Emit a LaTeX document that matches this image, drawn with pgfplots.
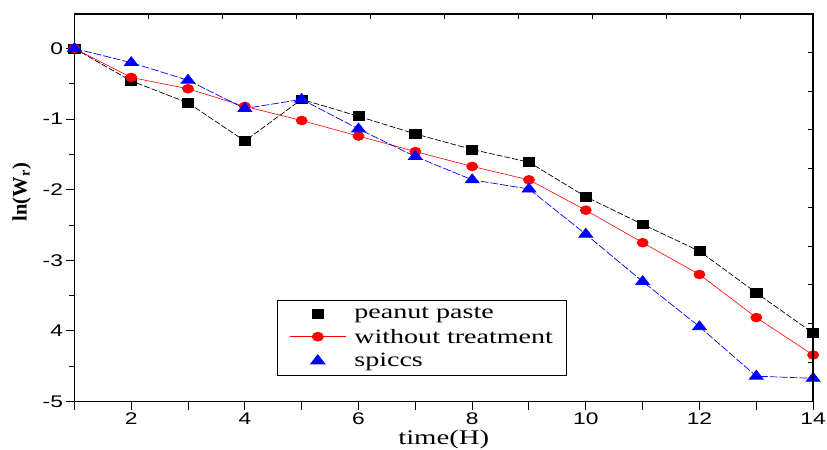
\documentclass[border=0pt]{standalone}
\usepackage{fontspec}
\setmainfont{Liberation Serif}[FakeStretch=1.38]
\newfontfamily\ticksf{Liberation Sans}[FakeStretch=1.35]
\usepackage{pgfplots}
\usepackage{pgfplotstable}
\pgfplotsset{compat=1.18}

\pgfplotstableread{
x black red blue
1 0 0 0
2 -0.46 -0.41 -0.20
3 -0.77 -0.57 -0.45
4 -1.31 -0.82 -0.85
5 -0.72 -1.02 -0.72
6 -0.96 -1.24 -1.14
7 -1.21 -1.46 -1.53
8 -1.43 -1.67 -1.86
9 -1.61 -1.86 -1.99
10 -2.10 -2.29 -2.63
11 -2.49 -2.75 -3.30
12 -2.87 -3.20 -3.94
13 -3.46 -3.81 -4.64
14 -4.03 -4.34 -4.67
}\datatable

\begin{document}
\begin{tikzpicture}
\begin{axis}[
  name=main,
  scale only axis, width=745pt, height=391pt,
  xmin=1, xmax=14, ymin=-5, ymax=0.49,
  axis line style={line width=1.3pt},
  xtick={1,...,14}, xticklabels={,2,,4,,6,,8,,10,,12,,14},
  ytick={-5,-4,-3,-2,-1,0}, yticklabels={-5,4,-3,-2,-1,0},
  minor ytick={-4.5,-3.5,-2.5,-1.5,-0.5},
  tick pos=left, tick align=outside,
  major tick length=8pt, minor tick length=5pt,
  tick style={line width=1pt, black},
  ticklabel style={font=\ticksf\fontsize{17}{20}\selectfont},
  xlabel={time(H)},
  xlabel style={font=\fontsize{21}{24}\selectfont, yshift=2pt},
  ylabel={\scalebox{1}[1.38]{\bfseries ln(W\textsubscript{r})}},
  ylabel style={font=\fontsize{15}{18}\selectfont, at={(ticklabel cs:0.54,5pt)}},
  legend cell align=left,
  legend style={at={(0.274,0.263)}, anchor=north west, draw=black, line width=1pt,
    font=\fontsize{20.5}{24}\selectfont, inner xsep=12pt, inner ysep=5pt, row sep=5pt,
    /tikz/every odd column/.append style={column sep=6pt}},
  legend image code/.code={\draw[mark repeat=2,mark phase=2,#1] plot coordinates {(0cm,0cm) (1cm,0cm) (2cm,0cm)};},
]
\addplot[black, line width=0.7pt, dash pattern=on 6pt off 2pt, mark=square*, mark size=4.5pt, mark options={solid, xscale=1.25}, forget plot] table[x=x, y=black] {\datatable};
\addplot[red, line width=0.6pt, mark=*, mark size=4.5pt, mark options={solid, xscale=1.25}, forget plot] table[x=x, y=red] {\datatable};
\addplot[blue, line width=0.7pt, dash pattern=on 8pt off 2pt, mark=triangle*, mark size=6pt, mark options={solid, xscale=1.35}, forget plot] table[x=x, y=blue] {\datatable};
\addlegendimage{only marks, black, mark=square*, mark size=4.5pt, mark options={xscale=1.25}}
\addlegendentry{peanut paste}
\addlegendimage{red, line width=0.8pt, mark=*, mark size=4.5pt, mark options={xscale=1.25}}
\addlegendentry{without treatment}
\addlegendimage{only marks, blue, mark=triangle*, mark size=6pt, mark options={xscale=1.35}}
\addlegendentry{spiccs}
\end{axis}
\begin{axis}[
  scale only axis, width=745pt, height=391pt,
  xmin=1, xmax=14, ymin=-5, ymax=0.49,
  axis line style={line width=1.3pt},
  axis x line*=top, axis y line*=right,
  xtick={2.31,3.61,4.91,6.21,7.52,8.82,10.12,11.42,12.73},
  ytick={-0.06,-0.61,-1.15,-1.70,-2.25,-2.80,-3.34,-3.89,-4.44},
  xticklabels={}, yticklabels={},
  tick align=inside, major tick length=5pt,
  tick style={line width=1pt, black},
]
\end{axis}
\path (main.south west) ++(-75pt,-48pt) coordinate (bbsw);
\path (main.north east) ++(14pt,14pt) coordinate (bbne);
\pgfresetboundingbox
\path[use as bounding box] (bbsw) rectangle (bbne);
\end{tikzpicture}
\end{document}
